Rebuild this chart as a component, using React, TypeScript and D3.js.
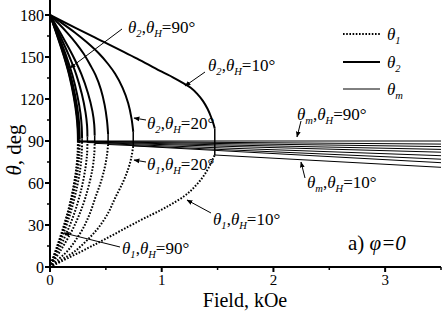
import React from 'react';
import * as d3 from 'd3';

const thetaH = [10, 20, 30, 40, 50, 60, 70, 80, 90];

// theta_2 branch [field kOe, deg] for each theta_H
const t2_10 = [[0, 180], [0.4, 164], [0.8, 148], [1.0, 139.5], [1.1, 135.5], [1.2, 131], [1.26, 128], [1.32, 123.5], [1.37, 118.5], [1.41, 113], [1.44, 107.5], [1.46, 103], [1.475, 99]];
const t2_20 = [[0, 180], [0.11, 174], [0.222, 167.5], [0.33, 160.5], [0.432, 153], [0.52, 145], [0.583, 138], [0.65, 128], [0.7, 117], [0.73, 106], [0.745, 96.5]];
const t2_30 = [[0, 180], [0.077, 173.9], [0.155, 167.2], [0.23, 160.1], [0.3, 152.5], [0.36, 144.3], [0.407, 137.2], [0.455, 127], [0.489, 115.8], [0.51, 104.7], [0.52, 95]];
const t2_40 = [[0, 180], [0.1, 166.2], [0.2, 151.6], [0.28, 137.9], [0.34, 124.1], [0.38, 111.2], [0.396, 101.7], [0.4, 94]];
const t2_50 = [[0, 180], [0.084, 166.1], [0.168, 151.3], [0.235, 137.4], [0.285, 123.5], [0.318, 110.4], [0.332, 100.8], [0.335, 93]];
const t2_60 = [[0, 180], [0.072, 165.9], [0.144, 151], [0.201, 136.9], [0.244, 122.8], [0.273, 109.6], [0.284, 99.9], [0.287, 92]];
const t2_70 = [[0, 180], [0.067, 165.8], [0.133, 150.6], [0.186, 136.4], [0.226, 122.2], [0.253, 108.8], [0.263, 99], [0.266, 91]];
const t2_80 = [[0, 180], [0.064, 165.7], [0.127, 150.5], [0.178, 136.1], [0.216, 121.8], [0.241, 108.4], [0.251, 98.6], [0.254, 90.5]];
const t2_90 = [[0, 180], [0.0625, 165.6], [0.125, 150.3], [0.175, 135.9], [0.2125, 121.5], [0.2375, 108], [0.2475, 98.1], [0.25, 90]];

// theta_1 branch
const t1_10 = [[0, 0], [0.4, 16], [0.8, 33], [1.0, 41], [1.1, 45.5], [1.2, 50.5], [1.26, 54.5], [1.32, 59.5], [1.37, 64.5], [1.41, 69.5], [1.44, 74], [1.46, 77.5], [1.475, 80]];
const t1_20 = [[0, 0], [0.11, 5.5], [0.222, 11.2], [0.33, 19], [0.432, 27.9], [0.52, 38.5], [0.583, 49.3], [0.65, 60], [0.7, 70], [0.73, 79], [0.745, 86.5]];
const t1_30 = [[0, 0], [0.077, 5.6], [0.155, 11.3], [0.23, 19.2], [0.3, 28.2], [0.36, 38.9], [0.407, 49.8], [0.455, 60.6], [0.489, 70.7], [0.51, 79.8], [0.52, 87.5]];
const t1_40 = [[0, 0], [0.1, 12.5], [0.2, 26.5], [0.28, 41], [0.34, 56], [0.38, 70], [0.396, 80.4], [0.4, 88.3]];
const t1_50 = [[0, 0], [0.084, 13.2], [0.168, 28], [0.235, 42.5], [0.285, 57.2], [0.318, 71.1], [0.332, 80.9], [0.335, 88.9]];
const t1_60 = [[0, 0], [0.072, 14], [0.144, 29], [0.201, 43.5], [0.244, 58], [0.273, 71.4], [0.284, 81.3], [0.287, 89.3]];
const t1_70 = [[0, 0], [0.067, 14.3], [0.133, 29.6], [0.186, 43.9], [0.226, 58.2], [0.253, 71.7], [0.263, 81.5], [0.266, 89.6]];
const t1_80 = [[0, 0], [0.064, 14.4], [0.127, 29.6], [0.178, 44], [0.216, 58.4], [0.241, 71.8], [0.251, 81.7], [0.254, 89.8]];
const t1_90 = [[0, 0], [0.0625, 14.4], [0.125, 29.7], [0.175, 44.1], [0.2125, 58.5], [0.2375, 72], [0.2475, 81.9], [0.25, 90]];

// theta_m after switching
const tm_10 = [[1.475, 80], [3.5, 71.2]];
const tm_20 = [[0.745, 86.5], [3.5, 74.5]];
const tm_30 = [[0.52, 87.5], [3.5, 77]];
const tm_40 = [[0.4, 88.3], [3.5, 79.5]];
const tm_50 = [[0.335, 88.9], [3.5, 82]];
const tm_60 = [[0.287, 89.3], [3.5, 84]];
const tm_70 = [[0.266, 89.6], [3.5, 86]];
const tm_80 = [[0.254, 89.8], [3.5, 87.8]];
const tm_90 = [[0.25, 90], [3.5, 90]];

const theta2 = [t2_10, t2_20, t2_30, t2_40, t2_50, t2_60, t2_70, t2_80, t2_90];
const theta1 = [t1_10, t1_20, t1_30, t1_40, t1_50, t1_60, t1_70, t1_80, t1_90];
const thetaM = [tm_10, tm_20, tm_30, tm_40, tm_50, tm_60, tm_70, tm_80, tm_90];

const xTicks = [0, 1, 2, 3];
const xMinor = [0.5, 1.5, 2.5, 3.5];
const yTicks = [0, 30, 60, 90, 120, 150, 180];
const yMinor = [15, 45, 75, 105, 135, 165];

const font = '"Liberation Serif", "Times New Roman", Times, serif';

const Sym = ({ x, y, sub, sub2, rest, size = 17 }) => (
	<text x={x} y={y} fontFamily={font} fontSize={size}>
		<tspan fontStyle="italic">θ</tspan>
		<tspan fontStyle="italic" fontSize={size * 0.62} dy={4}>{sub}</tspan>
		{sub2 !== undefined && (
			<React.Fragment>
				<tspan dy={-4}>,</tspan>
				<tspan fontStyle="italic">θ</tspan>
				<tspan fontStyle="italic" fontSize={size * 0.62} dy={4}>{sub2}</tspan>
				<tspan dy={-4}>{rest}</tspan>
			</React.Fragment>
		)}
	</text>
);

const App = () => {
	const width = 442, height = 312;
	const x = d3.scaleLinear().domain([0, 3.5]).range([50, 441]);
	const y = d3.scaleLinear().domain([0, 180]).range([267, 15]);
	const line = d3.line().x((d) => x(d[0])).y((d) => y(d[1])).curve(d3.curveCatmullRom.alpha(0.5));
	const straight = d3.line().x((d) => x(d[0])).y((d) => y(d[1]));

	const notes = [
		{ tx: 128, ty: 33, sub: '2', v: '=90°', a: [122, 29, 70, 68] },
		{ tx: 208, ty: 71, sub: '2', v: '=10°', a: [205, 72, 185, 86] },
		{ tx: 147, ty: 129, sub: '2', v: '=20°', a: [146, 120, 134, 118] },
		{ tx: 147, ty: 170, sub: '1', v: '=20°', a: [146, 162, 134, 160] },
		{ tx: 213, ty: 225, sub: '1', v: '=10°', a: [211, 213, 187, 200] },
		{ tx: 122, ty: 254, sub: '1', v: '=90°', a: [120, 247, 64, 233] },
		{ tx: 297, ty: 120, sub: 'm', v: '=90°', a: [301, 121, 297, 137] },
		{ tx: 307, ty: 188, sub: 'm', v: '=10°', a: [305, 178, 301, 162] },
	];

	return (
		<svg width={width} height={height} style={{ position: 'absolute', left: 0, top: 0, background: '#fff' }}>
			<defs>
				<marker id="arr" viewBox="0 0 10 10" refX="9" refY="5" markerWidth="6" markerHeight="6" orient="auto">
					<path d="M0,1 L10,5 L0,9 z" fill="#000" />
				</marker>
			</defs>

			{/* theta_m */}
			{thetaM.map((d, i) => (
				<path key={'m' + i} d={straight(d)} fill="none" stroke="#000" strokeWidth={1} />
			))}
			{/* theta_1 dotted */}
			{theta1.map((d, i) => (
				<path key={'a' + i} d={line(d)} fill="none" stroke="#000" strokeWidth={2} strokeDasharray="1.6,1.6" />
			))}
			{/* theta_2 solid + jump to theta_m */}
			{theta2.map((d, i) => (
				<g key={'b' + i}>
					<path d={line(d)} fill="none" stroke="#000" strokeWidth={2} />
					<line x1={x(d[d.length - 1][0])} x2={x(thetaM[i][0][0])} y1={y(d[d.length - 1][1])} y2={y(thetaM[i][0][1])} stroke="#000" strokeWidth={1.5} />
				</g>
			))}

			{/* axes */}
			<line x1={x(0)} x2={x(3.5)} y1={y(0)} y2={y(0)} stroke="#000" strokeWidth={2} />
			<line x1={x(0)} x2={x(0)} y1={y(0) + 1} y2={0} stroke="#000" strokeWidth={2} />
			{xTicks.map((t) => (
				<g key={'xt' + t}>
					<line x1={x(t)} x2={x(t)} y1={y(0)} y2={y(0) + 5} stroke="#000" strokeWidth={2} />
					<text x={x(t)} y={285} textAnchor="middle" fontFamily={font} fontSize={15}>{t}</text>
				</g>
			))}
			{xMinor.map((t) => (
				<line key={'xm' + t} x1={x(t)} x2={x(t)} y1={y(0)} y2={y(0) + 3} stroke="#000" strokeWidth={1.5} />
			))}
			{yTicks.map((t) => (
				<g key={'yt' + t}>
					<line x1={x(0) - 5} x2={x(0)} y1={y(t)} y2={y(t)} stroke="#000" strokeWidth={2} />
					<text x={44} y={y(t)} dy="0.35em" textAnchor="end" fontFamily={font} fontSize={16}>{t}</text>
				</g>
			))}
			{yMinor.map((t) => (
				<line key={'ym' + t} x1={x(0) - 3} x2={x(0)} y1={y(t)} y2={y(t)} stroke="#000" strokeWidth={1.5} />
			))}

			<text x={245} y={307} textAnchor="middle" fontFamily={font} fontSize={20}>Field, kOe</text>
			<text transform="translate(21,150) rotate(-90)" textAnchor="middle" fontFamily={font} fontSize={21}>
				<tspan fontStyle="italic">θ</tspan>, deg
			</text>

			{/* legend */}
			<line x1={343} x2={380} y1={34} y2={34} stroke="#000" strokeWidth={2} strokeDasharray="1.6,1.6" />
			<line x1={343} x2={380} y1={62} y2={62} stroke="#000" strokeWidth={2} />
			<line x1={343} x2={380} y1={89} y2={89} stroke="#000" strokeWidth={1} />
			<Sym x={387} y={40} sub="1" />
			<Sym x={387} y={68} sub="2" />
			<Sym x={387} y={95} sub="m" />

			{notes.map((n, i) => (
				<g key={'n' + i}>
					<line x1={n.a[0]} y1={n.a[1]} x2={n.a[2]} y2={n.a[3]} stroke="#000" strokeWidth={1} markerEnd="url(#arr)" />
					<Sym x={n.tx} y={n.ty} sub={n.sub} sub2="H" rest={n.v} />
				</g>
			))}

			<text x={348} y={250} fontFamily={font} fontSize={21}>
				a) <tspan fontStyle="italic">φ=0</tspan>
			</text>
		</svg>
	);
};

export default App;
